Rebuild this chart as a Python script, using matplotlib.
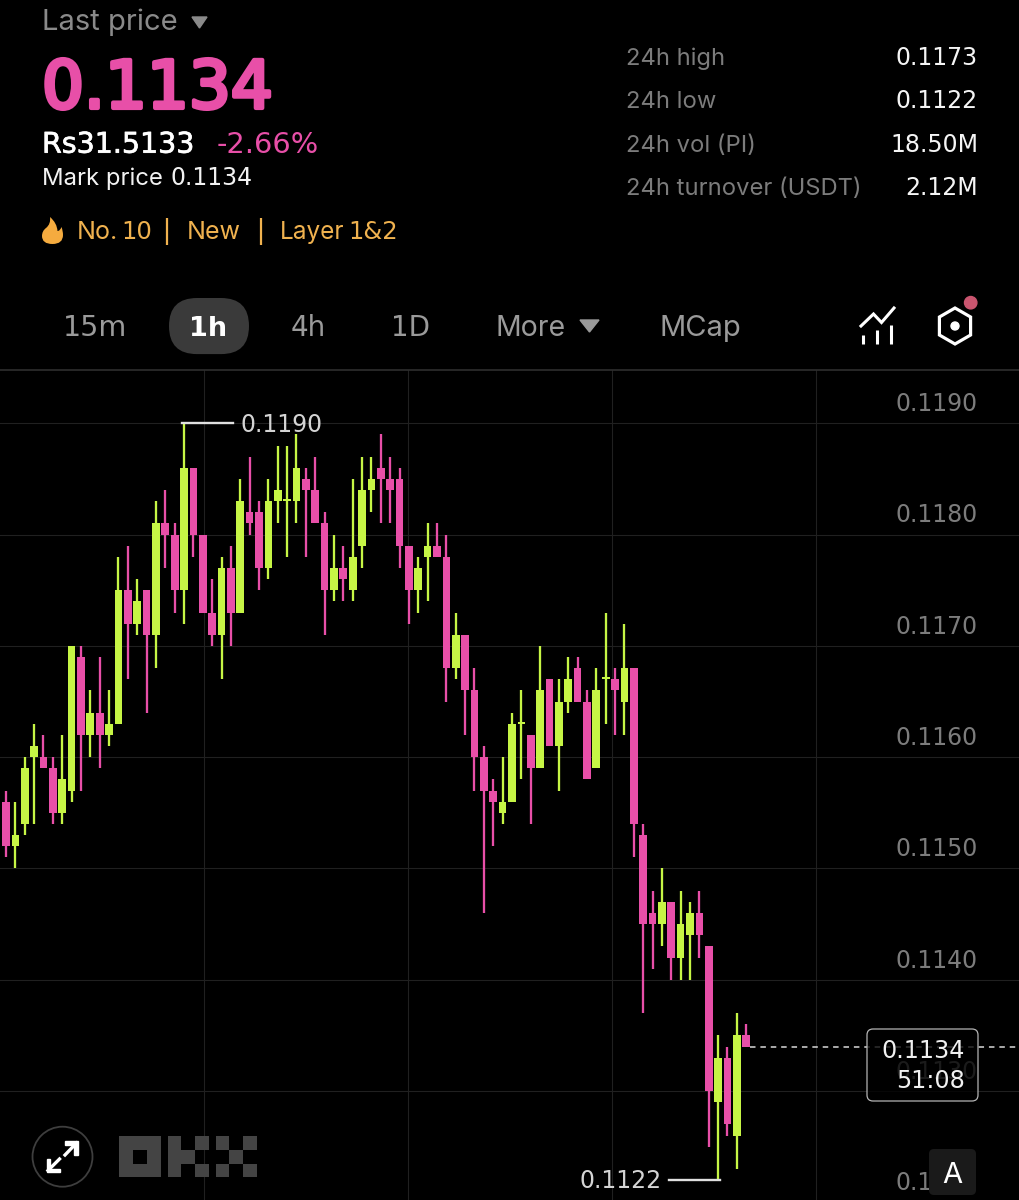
import numpy as np
import matplotlib
matplotlib.use('Agg')
import matplotlib.pyplot as plt
import matplotlib.patheffects as pe
from matplotlib.patches import Circle, FancyBboxPatch, Polygon, PathPatch, Rectangle, RegularPolygon
from matplotlib.path import Path

WIDTH, HEIGHT = 1020, 1200
PINK = '#e84fa8'
GREEN = '#c6f545'
AMBER = '#f0b24f'
GREY = '#8a8a8a'
LABEL_GREY = '#7c7c7c'
WORDS = 'Inter'
DIGITS = 'DejaVu Sans'

# candles, oldest first (first one is cut off by the left edge)
candle_index = list(range(-1, 80))
candle_open = [0.1162, 0.1156, 0.1152, 0.1154, 0.1160, 0.1160, 0.1159, 0.1155, 0.1157, 0.1169,
               0.1162, 0.1164, 0.1162, 0.1163, 0.1175, 0.1172, 0.1175, 0.1171, 0.1181, 0.1180,
               0.1175, 0.1186, 0.1180, 0.1173, 0.1171, 0.1177, 0.1173, 0.1182, 0.1182, 0.1177,
               0.1183, 0.1183, 0.1183, 0.1185, 0.1184, 0.1181, 0.1175, 0.1177, 0.1175, 0.1179,
               0.1184, 0.1186, 0.1185, 0.1185, 0.1179, 0.1175, 0.1178, 0.1179, 0.1178, 0.1168,
               0.1171, 0.1166, 0.1160, 0.1157, 0.1155, 0.1156, 0.1163, 0.1162, 0.1159, 0.1167,
               0.1161, 0.1165, 0.1168, 0.1165, 0.1159, 0.1167, 0.1167, 0.1165, 0.1168, 0.1153,
               0.1146, 0.1145, 0.1147, 0.1142, 0.1144, 0.1146, 0.1143, 0.1129, 0.1133, 0.1126,
               0.1135]
candle_close = [0.1157, 0.1152, 0.1153, 0.1159, 0.1161, 0.1159, 0.1155, 0.1158, 0.1170, 0.1162,
                0.1164, 0.1162, 0.1163, 0.1175, 0.1172, 0.1174, 0.1171, 0.1181, 0.1180, 0.1175,
                0.1186, 0.1180, 0.1173, 0.1171, 0.1177, 0.1173, 0.1183, 0.1181, 0.1177, 0.1183,
                0.1184, 0.1183, 0.1186, 0.1184, 0.1181, 0.1175, 0.1177, 0.1176, 0.1178, 0.1184,
                0.1185, 0.1185, 0.1184, 0.1179, 0.1175, 0.1177, 0.1179, 0.1178, 0.1168, 0.1171,
                0.1166, 0.1160, 0.1157, 0.1156, 0.1156, 0.1163, 0.1163, 0.1159, 0.1166, 0.1161,
                0.1165, 0.1167, 0.1165, 0.1158, 0.1166, 0.1167, 0.1166, 0.1168, 0.1154, 0.1145,
                0.1145, 0.1147, 0.1142, 0.1145, 0.1146, 0.1144, 0.1130, 0.1133, 0.1127, 0.1135,
                0.1134]
candle_high = [0.1162, 0.1157, 0.1156, 0.1160, 0.1163, 0.1162, 0.1160, 0.1162, 0.1170, 0.1170,
               0.1166, 0.1169, 0.1166, 0.1178, 0.1179, 0.1176, 0.1175, 0.1183, 0.1184, 0.1181,
               0.1190, 0.1186, 0.1180, 0.1176, 0.1178, 0.1179, 0.1185, 0.1187, 0.1183, 0.1185,
               0.1188, 0.1188, 0.1189, 0.1186, 0.1187, 0.1182, 0.1180, 0.1179, 0.1185, 0.1187,
               0.1187, 0.1189, 0.1187, 0.1186, 0.1179, 0.1178, 0.1181, 0.1181, 0.1180, 0.1173,
               0.1171, 0.1168, 0.1161, 0.1158, 0.1160, 0.1164, 0.1166, 0.1162, 0.1170, 0.1167,
               0.1167, 0.1169, 0.1169, 0.1166, 0.1168, 0.1173, 0.1168, 0.1172, 0.1168, 0.1154,
               0.1148, 0.1150, 0.1147, 0.1148, 0.1147, 0.1148, 0.1143, 0.1135, 0.1134, 0.1137,
               0.1136]
candle_low = [0.1157, 0.1151, 0.1150, 0.1153, 0.1154, 0.1159, 0.1154, 0.1154, 0.1156, 0.1157,
              0.1160, 0.1159, 0.1161, 0.1163, 0.1167, 0.1171, 0.1164, 0.1168, 0.1177, 0.1173,
              0.1172, 0.1178, 0.1173, 0.1170, 0.1167, 0.1170, 0.1173, 0.1180, 0.1175, 0.1176,
              0.1181, 0.1178, 0.1181, 0.1178, 0.1181, 0.1171, 0.1174, 0.1174, 0.1174, 0.1177,
              0.1182, 0.1181, 0.1181, 0.1177, 0.1172, 0.1173, 0.1174, 0.1178, 0.1165, 0.1167,
              0.1162, 0.1157, 0.1146, 0.1152, 0.1154, 0.1156, 0.1158, 0.1154, 0.1159, 0.1161,
              0.1157, 0.1164, 0.1165, 0.1158, 0.1159, 0.1163, 0.1162, 0.1162, 0.1151, 0.1137,
              0.1141, 0.1143, 0.1140, 0.1140, 0.1140, 0.1142, 0.1125, 0.1122, 0.1126, 0.1123,
              0.1134]

price_ticks = [0.1190, 0.1180, 0.1170, 0.1160, 0.1150, 0.1140, 0.1130, 0.1120]
price_labels = ['0.1190', '0.1180', '0.1170', '0.1160', '0.1150', '0.1140', '0.1130', '0.1120']
last_price = 0.1134
high_price = 0.1190
low_price = 0.1122
high_index = 19
low_index = 76

stat_names = ['24h high', '24h low', '24h vol (PI)', '24h turnover (USDT)']
stat_values = ['0.1173', '0.1122', '18.50M', '2.12M']
intervals = ['15m', '1h', '4h', '1D', 'More', 'MCap']


def x_to_index(px):
    return (px - 6.0) / 9.37


def y_to_price(py):
    return 0.1190 - (py - 423.3) / 111.3 * 0.001


fig = plt.figure(figsize=(WIDTH / 100, HEIGHT / 100), dpi=100, facecolor='black')

# chart, spans the figure below the tabs
ax = fig.add_axes([0, 0, 1, 1 - 370 / HEIGHT], facecolor='black')
for s in ax.spines.values():
    s.set_visible(False)
ax.set_yticks(price_ticks)
ax.set_xticks([x_to_index(px) for px in (204, 408, 612, 816)])
# limits after the ticks, set_yticks would stretch them to reach 0.1120
ax.set_xlim(x_to_index(0), x_to_index(WIDTH))
ax.set_ylim(y_to_price(1200), y_to_price(370))
ax.tick_params(length=0, labelleft=False, labelbottom=False)
ax.grid(True, color='#202020', linewidth=0.8)
ax.set_axisbelow(True)

colors = [GREEN if c >= o else PINK for o, c in zip(candle_open, candle_close)]
body_bottom = np.minimum(candle_open, candle_close)
body_height = np.maximum(np.abs(np.array(candle_open) - np.array(candle_close)), 0.00002)
ax.vlines(candle_index, candle_low, candle_high, colors=colors, linewidth=1.65, zorder=3)
ax.bar(candle_index, body_height, bottom=body_bottom, width=0.82, color=colors, linewidth=0, zorder=3)

# last price dashes run from the last candle out to the right edge
ax.hlines(last_price, candle_index[-1] + 0.4, x_to_index(WIDTH), colors='#d8d8d8',
          linewidth=1.1, linestyles=(0, (3.6, 3.2)), zorder=2)

# 0.1120 sits just under the bottom edge, its label still shows
for tick, lab in zip(price_ticks, price_labels):
    ax.annotate(lab, (x_to_index(978), tick), xytext=(0, 8.8), textcoords='offset points',
                ha='right', va='baseline', color=LABEL_GREY, fontsize=17, family=DIGITS, zorder=2,
                annotation_clip=False)

# everything else sits on an overlay in pixel coordinates
ui = fig.add_axes([0, 0, 1, 1], facecolor='none')
ui.set_xlim(0, WIDTH)
ui.set_ylim(HEIGHT, 0)
ui.axis('off')

# high / low markers
ax.annotate('0.1190', (high_index, high_price), xytext=(40.5, -6), textcoords='offset points',
            ha='left', va='baseline', color='#d4d4d4', fontsize=17, family=DIGITS, zorder=6)
ax.plot([high_index - 0.25, x_to_index(233)], [high_price, high_price], color='#e0e0e0', linewidth=1.7, zorder=5)
ax.annotate('0.1122', (low_index, low_price), xytext=(-40.5, -6), textcoords='offset points',
            ha='right', va='baseline', color='#d4d4d4', fontsize=17, family=DIGITS, zorder=6)
ax.plot([x_to_index(669), low_index + 0.25], [low_price, low_price], color='#e0e0e0', linewidth=1.7, zorder=5)

# price tag
ui.add_patch(FancyBboxPatch((871, 1033), 103, 64, boxstyle='round,pad=4,rounding_size=6',
                            facecolor='#000000', alpha=0.78, edgecolor='none', zorder=4))
ui.add_patch(FancyBboxPatch((871, 1033), 103, 64, boxstyle='round,pad=4,rounding_size=6',
                            facecolor='none', edgecolor='#b4b4b4', linewidth=0.9, zorder=5))
ui.text(965, 1058, '0.1134', color='#f0f0f0', fontsize=17.2, family=DIGITS, ha='right', va='baseline', zorder=6)
ui.text(965, 1088, '51:08', color='#f0f0f0', fontsize=17.2, family=DIGITS, ha='right', va='baseline', zorder=6)

# header
ui.text(42, 30, 'Last price', color=GREY, fontsize=21, family=WORDS, va='baseline')
ui.add_patch(Polygon([[192, 17], [207, 17], [199.5, 28]], closed=True, color=GREY))
ui.text(42, 108, '0.1134', color=PINK, fontsize=47.5, family=DIGITS, va='baseline',
        path_effects=[pe.withStroke(linewidth=3, foreground=PINK)])
ui.text(42, 152.7, 'Rs31.5133', color='#ffffff', fontsize=20.5, family=DIGITS, va='baseline',
        path_effects=[pe.withStroke(linewidth=0.5, foreground='#ffffff')])
ui.text(217, 152.7, '-2.66%', color=PINK, fontsize=20.8, family=DIGITS, va='baseline')
ui.text(42, 185, 'Mark price', color='#f2f2f2', fontsize=17.2, family=WORDS, va='baseline')
ui.text(171, 185, '0.1134', color='#f2f2f2', fontsize=17, family=DIGITS, va='baseline')

# flame icon
flame = Path([(50, 217), (51, 224), (46, 228), (42, 231), (42, 236), (42, 244), (52.5, 244),
              (63, 244), (63, 235), (63, 231), (61.5, 227), (60, 231), (57.5, 231), (57, 223), (50, 217)],
             [Path.MOVETO] + [Path.CURVE3] * 14)
ui.add_patch(PathPatch(flame, facecolor='#f5ab3f', edgecolor='none'))
ui.text(77, 239, 'No.', color=AMBER, fontsize=18, family=WORDS, va='baseline')
ui.text(121, 239, '10', color=AMBER, fontsize=17.5, family=DIGITS, va='baseline')
ui.plot([167, 167], [218, 245], color=AMBER, linewidth=1.6, solid_capstyle='butt')
ui.text(187, 239, 'New', color=AMBER, fontsize=18, family=WORDS, va='baseline')
ui.plot([261, 261], [218, 245], color=AMBER, linewidth=1.6, solid_capstyle='butt')
ui.text(280, 239, 'Layer', color=AMBER, fontsize=17.5, family=WORDS, va='baseline')
ui.text(348, 239, '1&2', color=AMBER, fontsize=17.5, family=DIGITS, va='baseline')

# 24h stats
for name, val, base in zip(stat_names, stat_values, (65, 108, 151.7, 195)):
    ui.text(626, base, name, color=LABEL_GREY, fontsize=17.1, family=WORDS, va='baseline')
    ui.text(978, base, val, color='#f5f5f5', fontsize=17, family=DIGITS, ha='right', va='baseline')

# interval tabs
ui.add_patch(FancyBboxPatch((197, 326), 24, 0.1, boxstyle='round,pad=28,rounding_size=28',
                            facecolor='#3a3a3a', edgecolor='none'))
for lab, cx, size in zip(intervals, (95, 208, 308, 411, 531, 700), (20.5, 19.5, 20, 20, 20.5, 21)):
    on = lab == '1h'
    ui.text(cx, 336, lab, color='#ffffff' if on else '#9a9a9a', fontsize=size,
            family=DIGITS if lab in ('15m', '1h', '4h', '1D') else WORDS, ha='center', va='baseline',
            fontweight='bold' if on else 'normal')
ui.add_patch(Polygon([[580, 320], [599, 320], [589.5, 332]], closed=True, color='#9a9a9a'))

# indicator icon
ui.plot([861, 873.5, 881.5, 894], [326, 314, 322.5, 308], color='white', linewidth=2.2, solid_joinstyle='miter')
for bx, top in ((863.5, 335), (877.5, 330), (891.5, 325)):
    ui.plot([bx, bx], [top, 343.5], color='white', linewidth=2.2, solid_capstyle='butt')

# settings icon
ui.add_patch(RegularPolygon((955, 326), 6, radius=18, facecolor='none', edgecolor='white', linewidth=2.3))
ui.add_patch(Circle((955, 326), 4, color='white'))
ui.add_patch(Circle((970.7, 302.7), 6.2, color='#c9556f'))
ui.plot([0, WIDTH], [369.5, 369.5], color='#2e2e2e', linewidth=1.2)

# expand button
ui.add_patch(Circle((62.5, 1156.7), 30, facecolor='black', edgecolor='#3e3e3e', linewidth=1.3))
ui.plot([65, 76.5], [1155, 1143], color='white', linewidth=2.4)
ui.add_patch(Polygon([[65, 1141], [78, 1141], [78, 1154.5], [74.5, 1154.5], [74.5, 1144.5], [65, 1144.5]], color='white'))
ui.plot([48, 59.5], [1170.5, 1159], color='white', linewidth=2.4)
ui.add_patch(Polygon([[47, 1158.5], [50.5, 1158.5], [50.5, 1168.5], [60.5, 1168.5], [60.5, 1172], [47, 1172]], color='white'))

# OKX logo
LOGO = '#444444'
cell = 13.75
logo_left, logo_top = 119.5, 1136.0
logo_cells = [(0, 0, 3, 1), (0, 2, 3, 1), (0, 1, 1, 1), (2, 1, 1, 1),
              (3.5, 0, 1, 3), (4.5, 1, 1, 1), (5.5, 0, 1, 1), (5.5, 2, 1, 1),
              (7, 0, 1, 1), (7, 2, 1, 1), (8, 1, 1, 1), (9, 0, 1, 1), (9, 2, 1, 1)]
for cx, cy, w, h in logo_cells:
    ui.add_patch(Rectangle((logo_left + cx * cell, logo_top + cy * cell), w * cell, h * cell,
                           facecolor=LOGO, edgecolor='none'))

# auto button
ui.add_patch(FancyBboxPatch((934, 1154), 37, 36, boxstyle='round,pad=5,rounding_size=5',
                            facecolor='#1a1a1a', edgecolor='none', zorder=4))
ui.text(952.5, 1183, 'A', color='white', fontsize=21, family=WORDS, ha='center', va='baseline', zorder=5)

fig.savefig('out.png', dpi=100, facecolor='black')
